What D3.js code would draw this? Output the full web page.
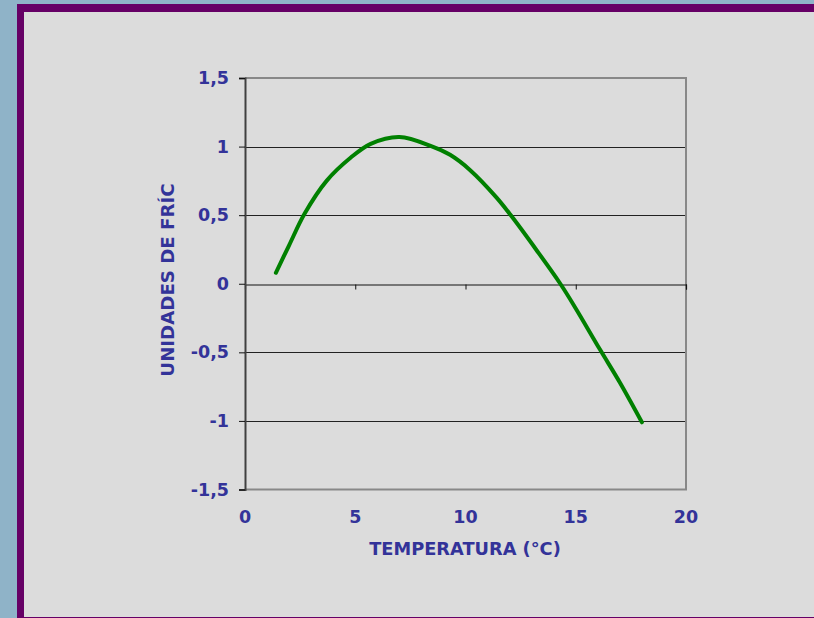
<!DOCTYPE html>
<html>
<head>
<meta charset="utf-8">
<script src="https://cdn.jsdelivr.net/npm/d3@7"></script>
<style>
  html, body { margin: 0; padding: 0; background: #8fb3c8; }
  svg { display: block; }
</style>
</head>
<body>
<div id="chart"></div>
<script>
// datos
var temperatura = [1.4, 2.0, 2.7, 3.7, 4.8, 5.7, 7.0, 8.5, 9.3, 10.2, 11.4, 12.1, 13.2, 14.3, 15.0, 16.1, 17.0, 18.0];
var unidades = [0.08, 0.28, 0.51, 0.75, 0.92, 1.02, 1.07, 1.0, 0.94, 0.83, 0.63, 0.49, 0.25, 0.0, -0.18, -0.48, -0.72, -1.01];
var xTicks = [0, 5, 10, 15, 20];
var yTicks = [1.5, 1, 0.5, 0, -0.5, -1, -1.5];
var xTitulo = "TEMPERATURA (°C)";
var yTitulo = "UNIDADES DE FRÍC";

var W = 814, H = 618;
var azul = "#333399";
var fuente = "'DejaVu Sans', Verdana, sans-serif";

var svg = d3.select("#chart").append("svg")
  .attr("width", W).attr("height", H);

// fondo de la diapositiva
svg.append("rect").attr("width", W).attr("height", H).attr("fill", "#8fb3c8");
svg.append("rect").attr("x", 17).attr("y", 4).attr("width", W).attr("height", H)
  .attr("fill", "#660066");
svg.append("rect").attr("x", 24).attr("y", 12).attr("width", W).attr("height", H - 13)
  .attr("fill", "#dcdcdc");

// area del grafico
var x = d3.scaleLinear().domain([0, 20]).range([245, 686]);
var y = d3.scaleLinear().domain([-1.5, 1.5]).range([489.5, 78]);

var g = svg.append("g");

// lineas de division
g.selectAll(".grid")
  .data(yTicks.filter(function(d) { return d !== 1.5 && d !== -1.5 && d !== 0; }))
  .enter().append("line")
  .attr("x1", x(0)).attr("x2", x(20))
  .attr("y1", function(d) { return Math.round(y(d)) + 0.5; })
  .attr("y2", function(d) { return Math.round(y(d)) + 0.5; })
  .attr("stroke", "#222").attr("stroke-width", 1);

// borde gris
g.append("path")
  .attr("d", "M" + x(0) + "," + y(1.5) + "H" + x(20) + "V" + y(-1.5) + "H" + x(0))
  .attr("fill", "none").attr("stroke", "#888").attr("stroke-width", 2);

// eje x en cero
var xAxis = d3.axisBottom(x).tickValues(xTicks).tickSize(5).tickFormat("");
g.append("g")
  .attr("transform", "translate(0," + (Math.round(y(0)) + 0.5) + ")")
  .call(xAxis)
  .call(function(s) {
    s.select(".domain").attr("stroke", "#111").attr("stroke-width", 1.2);
    s.selectAll(".tick line").attr("stroke", "#111");
  });

// eje y
var yAxis = d3.axisLeft(y).tickValues(yTicks).tickSize(6).tickPadding(10)
  .tickFormat(function(d) { return String(d).replace(".", ","); });
g.append("g")
  .attr("transform", "translate(" + x(0) + ",0)")
  .call(yAxis)
  .call(function(s) {
    s.select(".domain").attr("stroke", "#404040").attr("stroke-width", 2);
    s.selectAll(".tick line").attr("stroke", "#111");
    s.selectAll(".tick text")
      .attr("fill", azul).attr("font-family", fuente)
      .attr("font-weight", "bold").attr("font-size", 17.5);
  });

// etiquetas del eje x abajo
g.selectAll(".xlab")
  .data(xTicks)
  .enter().append("text")
  .attr("x", function(d) { return x(d); })
  .attr("y", 523)
  .attr("text-anchor", "middle")
  .attr("fill", azul).attr("font-family", fuente)
  .attr("font-weight", "bold").attr("font-size", 17.5)
  .text(function(d) { return d; });

// titulos
svg.append("text")
  .attr("x", 465).attr("y", 555)
  .attr("text-anchor", "middle")
  .attr("fill", azul).attr("font-family", fuente)
  .attr("font-weight", "bold").attr("font-size", 17.8)
  .text(xTitulo);

svg.append("text")
  .attr("transform", "translate(174,280) rotate(-90)")
  .attr("text-anchor", "middle")
  .attr("fill", azul).attr("font-family", fuente)
  .attr("font-weight", "bold").attr("font-size", 18.2)
  .text(yTitulo);

// curva
var linea = d3.line()
  .x(function(d, i) { return x(temperatura[i]); })
  .y(function(d) { return y(d); })
  .curve(d3.curveCatmullRom);

g.append("path")
  .datum(unidades)
  .attr("d", linea)
  .attr("fill", "none")
  .attr("stroke", "#008000")
  .attr("stroke-width", 4)
  .attr("stroke-linecap", "round");
</script>
</body>
</html>
